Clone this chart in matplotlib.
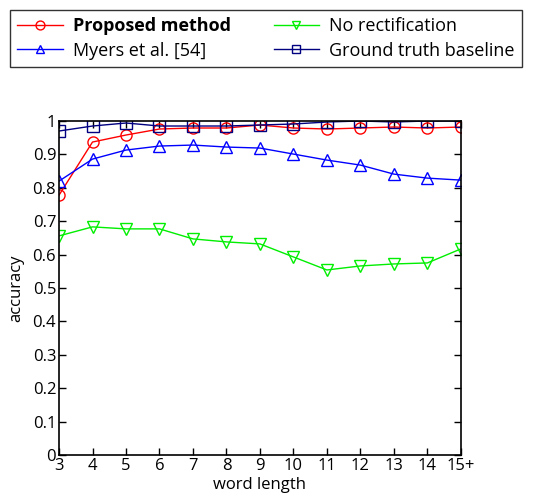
import matplotlib
matplotlib.use("Agg")
import matplotlib.pyplot as plt

word_length = ["3", "4", "5", "6", "7", "8", "9", "10", "11", "12", "13", "14", "15+"]
proposed = [0.778, 0.937, 0.958, 0.976, 0.979, 0.979, 0.988, 0.979, 0.976, 0.979, 0.982, 0.979, 0.982]
myers = [0.820, 0.886, 0.913, 0.925, 0.928, 0.922, 0.919, 0.901, 0.883, 0.868, 0.841, 0.829, 0.823]
no_rect = [0.656, 0.683, 0.677, 0.677, 0.647, 0.638, 0.632, 0.593, 0.554, 0.566, 0.572, 0.575, 0.617]
ground_truth = [0.970, 0.985, 0.994, 0.985, 0.985, 0.985, 0.988, 0.991, 0.997, 1.000, 0.997, 1.000, 1.000]

plt.rcParams['font.family'] = ['Open Sans', 'DejaVu Sans']

fig = plt.figure(figsize=(5.39, 5.0), dpi=100)
ax = fig.add_axes([0.1095, 0.09, 0.7455, 0.668])
x = list(range(len(word_length)))

h1, = ax.plot(x, proposed, '-o', color='#ff0000', mfc='none', ms=8, lw=1, label='Proposed method')
h2, = ax.plot(x, myers, '-^', color='#0000ff', mfc='none', ms=8, lw=1, label='Myers et al. [54]')
h3, = ax.plot(x, no_rect, '-v', color='#00ee00', mfc='none', ms=8, lw=1, label='No rectification')
h4, = ax.plot(x, ground_truth, '-s', color='#000080', mfc='none', ms=8, lw=1, label='Ground truth baseline')

ax.set_xlim(0, len(word_length) - 1)
ax.set_ylim(0, 1)
ax.set_xticks(x)
ax.set_xticklabels(word_length)
ax.set_yticks([i / 10 for i in range(11)])
ax.set_yticklabels(['0', '0.1', '0.2', '0.3', '0.4', '0.5', '0.6', '0.7', '0.8', '0.9', '1'])
ax.tick_params(direction='in', top=True, right=True, labelsize=12, length=5, width=1, pad=2)
for s in ax.spines.values():
    s.set_linewidth(1.2)
ax.set_xlabel('word length', fontsize=12, labelpad=2)
ax.set_ylabel('accuracy', fontsize=12, labelpad=6)

leg = fig.legend(handles=[h1, h2, h3, h4], loc='upper left', bbox_to_anchor=(0.019, 0.98),
                 ncol=2, fontsize=13, frameon=True, fancybox=False, edgecolor='black',
                 handlelength=2.5, columnspacing=2.4, borderpad=0.4, labelspacing=0.35, handletextpad=0.55,
                 borderaxespad=0, markerscale=0.8)
leg.get_frame().set_linewidth(1)
leg.get_texts()[0].set_fontweight('bold')

fig.savefig('out.png', dpi=100)
